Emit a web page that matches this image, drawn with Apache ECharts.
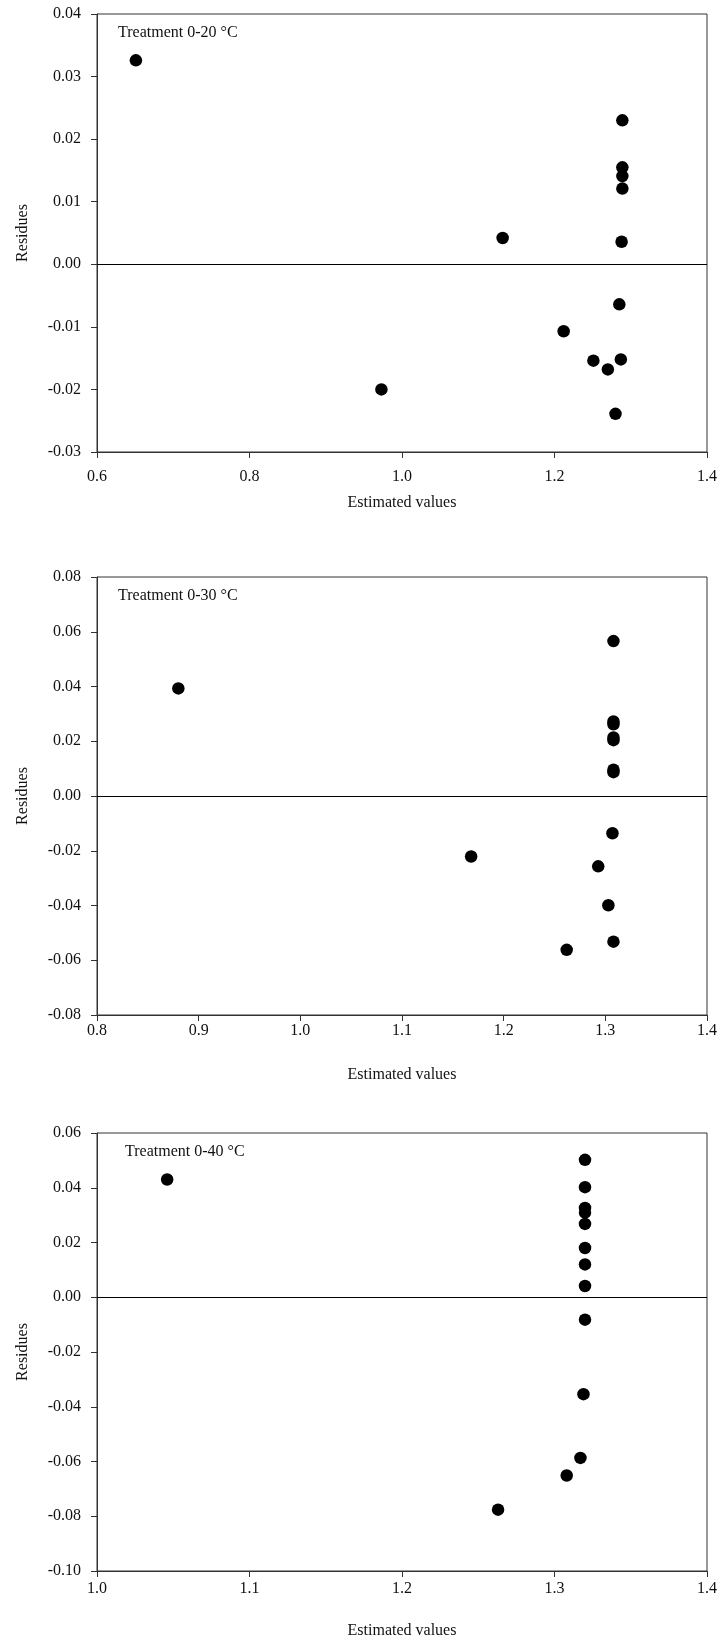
<!DOCTYPE html>
<html>
<head>
<meta charset="utf-8">
<title>Residues</title>
<script src="https://cdn.jsdelivr.net/npm/echarts@6/dist/echarts.min.js"></script>
<style>
	html, body { margin: 0; padding: 0; background: #fff; }
	#chart { width: 720px; height: 1642px; }
</style>
</head>
<body>
<div id="chart"></div>
<script>
	// panel titles
	var panelTitles = ['Treatment 0-20 °C', 'Treatment 0-30 °C', 'Treatment 0-40 °C'];

	// 0-20 °C
	var est20 = [0.651, 1.289, 1.289, 1.289, 1.289, 1.132, 1.288, 1.285, 1.212, 1.251, 1.287, 1.270, 0.973, 1.280];
	var res20 = [0.0326, 0.0230, 0.0155, 0.0141, 0.0121, 0.0042, 0.0036, -0.0064, -0.0107, -0.0154, -0.0152, -0.0168, -0.0200, -0.0239];

	// 0-30 °C
	var est30 = [0.880, 1.308, 1.308, 1.308, 1.308, 1.308, 1.308, 1.308, 1.307, 1.168, 1.293, 1.303, 1.308, 1.262];
	var res30 = [0.0393, 0.0566, 0.0272, 0.0262, 0.0214, 0.0204, 0.0096, 0.0087, -0.0136, -0.0221, -0.0257, -0.0399, -0.0532, -0.0562];

	// 0-40 °C
	var est40 = [1.046, 1.320, 1.320, 1.320, 1.320, 1.320, 1.320, 1.320, 1.320, 1.320, 1.319, 1.317, 1.308, 1.263];
	var res40 = [0.0430, 0.0502, 0.0402, 0.0326, 0.0309, 0.0268, 0.0180, 0.0120, 0.0041, -0.0082, -0.0354, -0.0587, -0.0651, -0.0776];

	// axis ranges [min, max, interval]
	var xRanges = [[0.6, 1.4, 0.2], [0.8, 1.4, 0.1], [1.0, 1.4, 0.1]];
	var yRanges = [[-0.03, 0.04, 0.01], [-0.08, 0.08, 0.02], [-0.10, 0.06, 0.02]];

	var xNames = ['Estimated values', 'Estimated values', 'Estimated values'];
	var yNames = ['Residues', 'Residues', 'Residues'];

	function pairs(xs, ys) {
		var out = [];
		for (var i = 0; i < xs.length; i++) {
			out.push([xs[i], ys[i]]);
		}
		return out;
	}

	function drawChart() {
		var myChart = echarts.init(document.getElementById('chart'));
		var font = "'Liberation Serif', 'Times New Roman', serif";
		var ink = '#111';
		var lineCol = '#333';
		var tops = [14, 577, 1133];
		var titleLeft = [118, 118, 125];
		var xLabelMargin = [17, 8, 10];
		var xNameGap = [43, 52, 52];
		var allData = [pairs(est20, res20), pairs(est30, res30), pairs(est40, res40)];

		var grids = [], xAxes = [], yAxes = [], series = [], titles = [];
		for (var i = 0; i < 3; i++) {
			grids.push({
				left: 97, top: tops[i], width: 610, height: 438,
				show: true, borderColor: lineCol, borderWidth: 1, backgroundColor: 'transparent'
			});
			titles.push({
				text: panelTitles[i],
				left: titleLeft[i], top: tops[i] + 11, padding: 0,
				textStyle: { fontFamily: font, fontSize: 16, fontWeight: 'normal', color: ink }
			});
			xAxes.push({
				type: 'value', gridIndex: i,
				min: xRanges[i][0], max: xRanges[i][1], interval: xRanges[i][2],
				name: xNames[i], nameLocation: 'middle', nameGap: xNameGap[i],
				nameTextStyle: { fontFamily: font, fontSize: 16, color: ink },
				axisLine: { show: true, onZero: false, lineStyle: { color: lineCol, width: 1 } },
				axisTick: { show: true, length: 6, lineStyle: { color: lineCol } },
				axisLabel: {
					fontFamily: font, fontSize: 16, color: ink, margin: xLabelMargin[i],
					formatter: function (v) { return v.toFixed(1); }
				},
				splitLine: { show: false }
			});
			yAxes.push({
				type: 'value', gridIndex: i,
				min: yRanges[i][0], max: yRanges[i][1], interval: yRanges[i][2],
				name: yNames[i], nameLocation: 'middle', nameGap: 66, nameRotate: 90,
				nameTextStyle: { fontFamily: font, fontSize: 16, color: ink },
				axisLine: { show: true, onZero: false, lineStyle: { color: lineCol, width: 1 } },
				axisTick: { show: true, length: 6, lineStyle: { color: lineCol } },
				axisLabel: {
					fontFamily: font, fontSize: 16, color: ink, margin: 16,
					formatter: function (v) { return v.toFixed(2); }
				},
				splitLine: { show: false }
			});
			series.push({
				type: 'scatter', xAxisIndex: i, yAxisIndex: i,
				symbol: 'circle', symbolSize: 12.5,
				itemStyle: { color: '#000', opacity: 1 },
				data: allData[i],
				markLine: {
					silent: true, symbol: 'none', animation: false,
					label: { show: false },
					lineStyle: { color: '#000', width: 1.2, type: 'solid' },
					data: [{ yAxis: 0 }]
				}
			});
		}

		myChart.setOption({
			animation: false,
			title: titles,
			grid: grids,
			xAxis: xAxes,
			yAxis: yAxes,
			series: series
		});
	}

	drawChart();
</script>
</body>
</html>
